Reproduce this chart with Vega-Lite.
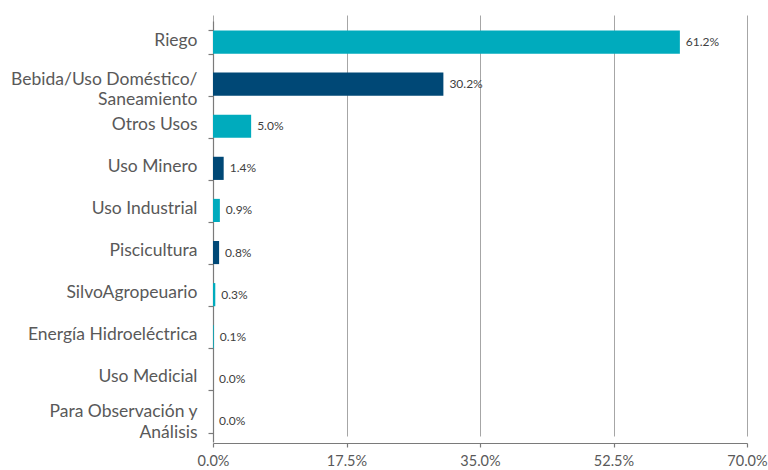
{
  "$schema": "https://vega.github.io/schema/vega-lite/v6.json",
  "width": 534,
  "height": 429,
  "autosize": "none",
  "padding": {"left": 213, "top": 14, "right": 21, "bottom": 27},
  "background": "white",
  "config": {"view": {"stroke": null}, "font": "Lato"},
  "data": {
    "values": [
      {"uso": "Riego", "pct": 61.2, "grupo": "a"},
      {"uso": "Bebida/Uso Doméstico/Saneamiento", "pct": 30.2, "grupo": "b"},
      {"uso": "Otros Usos", "pct": 5.0, "grupo": "a"},
      {"uso": "Uso Minero", "pct": 1.4, "grupo": "b"},
      {"uso": "Uso Industrial", "pct": 0.9, "grupo": "a"},
      {"uso": "Piscicultura", "pct": 0.8, "grupo": "b"},
      {"uso": "SilvoAgropeuario", "pct": 0.3, "grupo": "a"},
      {"uso": "Energía Hidroeléctrica", "pct": 0.1, "grupo": "a"},
      {"uso": "Uso Medicial", "pct": 0.0, "grupo": "a"},
      {"uso": "Para Observación y Análisis", "pct": 0.0, "grupo": "a"}
    ]
  },
  "encoding": {
    "y": {
      "field": "uso", "type": "nominal", "sort": null,
      "scale": {"range": [7, 428], "paddingInner": 0.45, "paddingOuter": 0.225},
      "axis": {
        "title": null, "domain": true, "domainColor": "#7A7A7A", "domainWidth": 1.2, "ticks": true, "tickColor": "#7A7A7A", "tickWidth": 1.2,
        "tickSize": 5, "tickBand": "extent", "labelPadding": 11, "labelFontSize": 17.5, "labelBaseline": "middle",
        "labelColor": "#595959", "labelLimit": 240, "labelLineHeight": 20.5,
        "labelOffset": {
          "condition": [
            {"test": "datum.value == 'Bebida/Uso Doméstico/Saneamiento'", "value": -5},
            {"test": "datum.value == 'Para Observación y Análisis'", "value": -9}
          ],
          "value": -2
        },
        "labelExpr": "datum.value == 'Bebida/Uso Doméstico/Saneamiento' ? ['Bebida/Uso Doméstico/', 'Saneamiento'] : datum.value == 'Para Observación y Análisis' ? ['Para Observación y', 'Análisis'] : datum.value"
      }
    },
    "x": {
      "field": "pct", "type": "quantitative",
      "scale": {"domain": [0, 70], "nice": false},
      "axis": {
        "title": null, "values": [0, 17.5, 35, 52.5, 70],
        "labelExpr": "format(datum.value, '.1f') + '%'", "labelFlush": false,
        "grid": true, "gridColor": "#A6A6A6", "gridWidth": 1,
        "domain": true, "domainColor": "#7A7A7A", "domainWidth": 1.2, "tickColor": "#7A7A7A", "tickWidth": 1.2, "tickSize": 4,
        "labelFontSize": 14.5, "labelColor": "#595959", "labelPadding": 7
      }
    }
  },
  "layer": [
    {
      "mark": {"type": "bar"},
      "encoding": {
        "color": {
          "field": "grupo", "type": "nominal", "legend": null,
          "scale": {"domain": ["a", "b"], "range": ["#00ABBD", "#004876"]}
        }
      }
    },
    {
      "mark": {"type": "text", "align": "left", "dx": 6, "fontSize": 12, "color": "#404040", "text": {"expr": "format(datum.pct, '.1f') + '%'"}},
      "encoding": {}
    }
  ]
}
